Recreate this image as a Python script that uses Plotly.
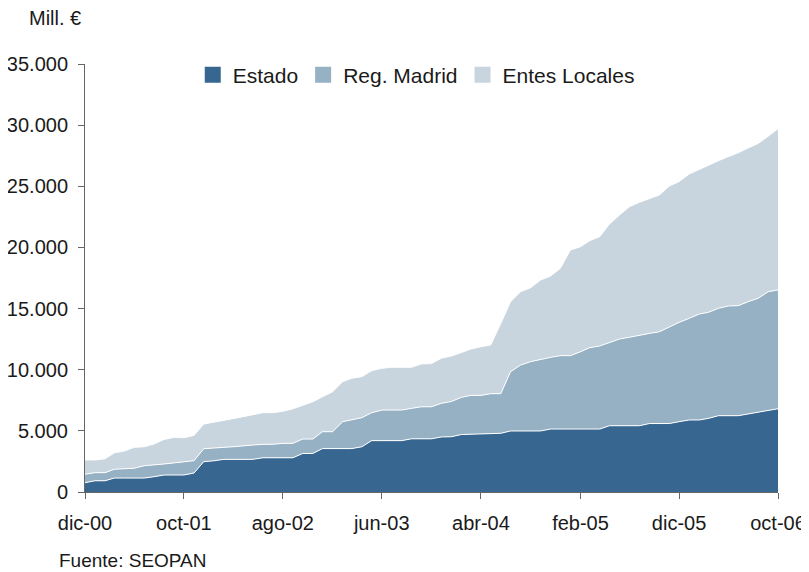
import plotly.graph_objects as go
import pandas as pd

# ─── DATOS (Mill. €), mensual dic-00 … oct-06 ─────────────────
MESES = pd.date_range("2000-12-01", periods=71, freq="MS")

ESTADO = [
    760, 920, 920, 1140, 1140, 1140, 1140, 1250, 1390, 1390,
    1390, 1550, 2480, 2550, 2670, 2670, 2670, 2670, 2800, 2800,
    2800, 2800, 3150, 3150, 3550, 3550, 3550, 3550, 3700, 4200,
    4200, 4200, 4200, 4350, 4350, 4350, 4500, 4520, 4700, 4720,
    4800, 4800, 4800, 4990, 4990, 4990, 4990, 5150, 5150, 5150,
    5150, 5150, 5150, 5420, 5420, 5420, 5420, 5600, 5600, 5600,
    5750, 5890, 5890, 6020, 6240, 6240, 6240, 6380, 6520, 6650,
    6810,
]
REG_MADRID = [
    690, 660, 660, 720, 760, 800, 1010, 950, 900, 990,
    1090, 1010, 1060, 1020, 980, 1030, 1130, 1170, 1100, 1100,
    1180, 1180, 1180, 1180, 1380, 1380, 2200, 2340, 2380, 2280,
    2500, 2500, 2500, 2490, 2620, 2620, 2750, 2880, 3040, 3180,
    3100, 3240, 3240, 4850, 5390, 5670, 5860, 5860, 6000, 6000,
    6320, 6650, 6790, 6820, 7090, 7230, 7420, 7370, 7500, 7920,
    8120, 8310, 8660, 8670, 8780, 8970, 9000, 9180, 9320, 9730,
    9710,
]
ENTES_LOCALES = [
    1170, 1040, 1140, 1340, 1450, 1710, 1550, 1720, 2010, 2090,
    1960, 2070, 2020, 2130, 2180, 2300, 2360, 2460, 2590, 2590,
    2620, 2820, 2780, 3050, 2860, 3270, 3270, 3410, 3350, 3440,
    3410, 3500, 3500, 3360, 3500, 3530, 3680, 3720, 3660, 3790,
    3980, 3980, 5750, 5720, 6000, 6050, 6480, 6650, 7140, 8640,
    8590, 8750, 8940, 9670, 10140, 10680, 10850, 10990, 11180, 11500,
    11510, 11800, 11830, 12050, 12070, 12210, 12500, 12570, 12660, 12720,
    13180,
]

TICK_LABELS = ["dic-00", "oct-01", "ago-02", "jun-03", "abr-04", "feb-05", "dic-05", "oct-06"]
TICK_VALS = MESES[::10]

# ─── PALETA ───────────────────────────────────────────────────
COR_ESTADO = "#376791"
COR_MADRID = "#96B0C4"
COR_ENTES = "#C8D5DF"
COR_TEXTO = "#1a1a1a"
COR_EIXO = "#666666"
FONTE = "Liberation Sans, Arial, sans-serif"

SERIES = [
    ("Estado", ESTADO, COR_ESTADO),
    ("Reg. Madrid", REG_MADRID, COR_MADRID),
    ("Entes Locales", ENTES_LOCALES, COR_ENTES),
]

fig = go.Figure()
for nome, valores, cor in SERIES:
    fig.add_trace(go.Scatter(
        x=MESES,
        y=valores,
        name=nome,
        mode="lines",
        stackgroup="uno",
        line=dict(color="white", width=1),
        fillcolor=cor,
        showlegend=False,
        hovertemplate=f"<b>{nome}</b><br>%{{x|%b-%y}}: %{{y:,.0f}}<extra></extra>",
    ))

# Legenda com quadrados (traços vazios só para a legenda)
for nome, _, cor in SERIES:
    fig.add_trace(go.Scatter(
        x=[None], y=[None],
        name=nome,
        mode="markers",
        marker=dict(symbol="square", size=16, color=cor),
        hoverinfo="skip",
    ))

# A página tem margem de 8px no body: figura 8px menor e deslocada
fig.update_layout(
    width=801,
    height=564,
    paper_bgcolor="white",
    plot_bgcolor="white",
    separators=",.",
    font=dict(family=FONTE, color=COR_TEXTO, size=19),
    margin=dict(l=77, r=31, t=56, b=80),
    showlegend=True,
    legend=dict(
        orientation="h",
        x=0.478, xanchor="center",
        y=0.974, yanchor="middle",
        font=dict(size=21),
        itemwidth=30,
        traceorder="normal",
        bgcolor="rgba(0,0,0,0)",
    ),
    xaxis=dict(
        range=[MESES[0], MESES[-1]],
        tickvals=TICK_VALS,
        ticktext=TICK_LABELS,
        showgrid=False,
        zeroline=False,
        showline=True,
        linecolor=COR_EIXO,
        linewidth=1,
        ticks="outside",
        ticklen=6,
        tickcolor=COR_EIXO,
        ticklabelstandoff=7,
        tickfont=dict(size=20),
        automargin=False,
    ),
    yaxis=dict(
        range=[0, 35000],
        dtick=5000,
        tickformat=",d",
        showgrid=False,
        zeroline=False,
        showline=True,
        linecolor=COR_EIXO,
        linewidth=1,
        ticks="outside",
        ticklen=6,
        tickcolor=COR_EIXO,
        ticklabelstandoff=6,
        tickfont=dict(size=20),
        automargin=False,
    ),
    annotations=[
        dict(text="Mill. €", xref="paper", yref="paper", x=-0.0837, y=1.107,
             xanchor="left", yanchor="middle", showarrow=False,
             font=dict(size=20, color=COR_TEXTO)),
        dict(text="Fuente: SEOPAN", xref="paper", yref="paper", x=-0.0404, y=-0.159,
             xanchor="left", yanchor="middle", showarrow=False,
             font=dict(size=19, color=COR_TEXTO)),
    ],
)

fig.write_html("out.html")
